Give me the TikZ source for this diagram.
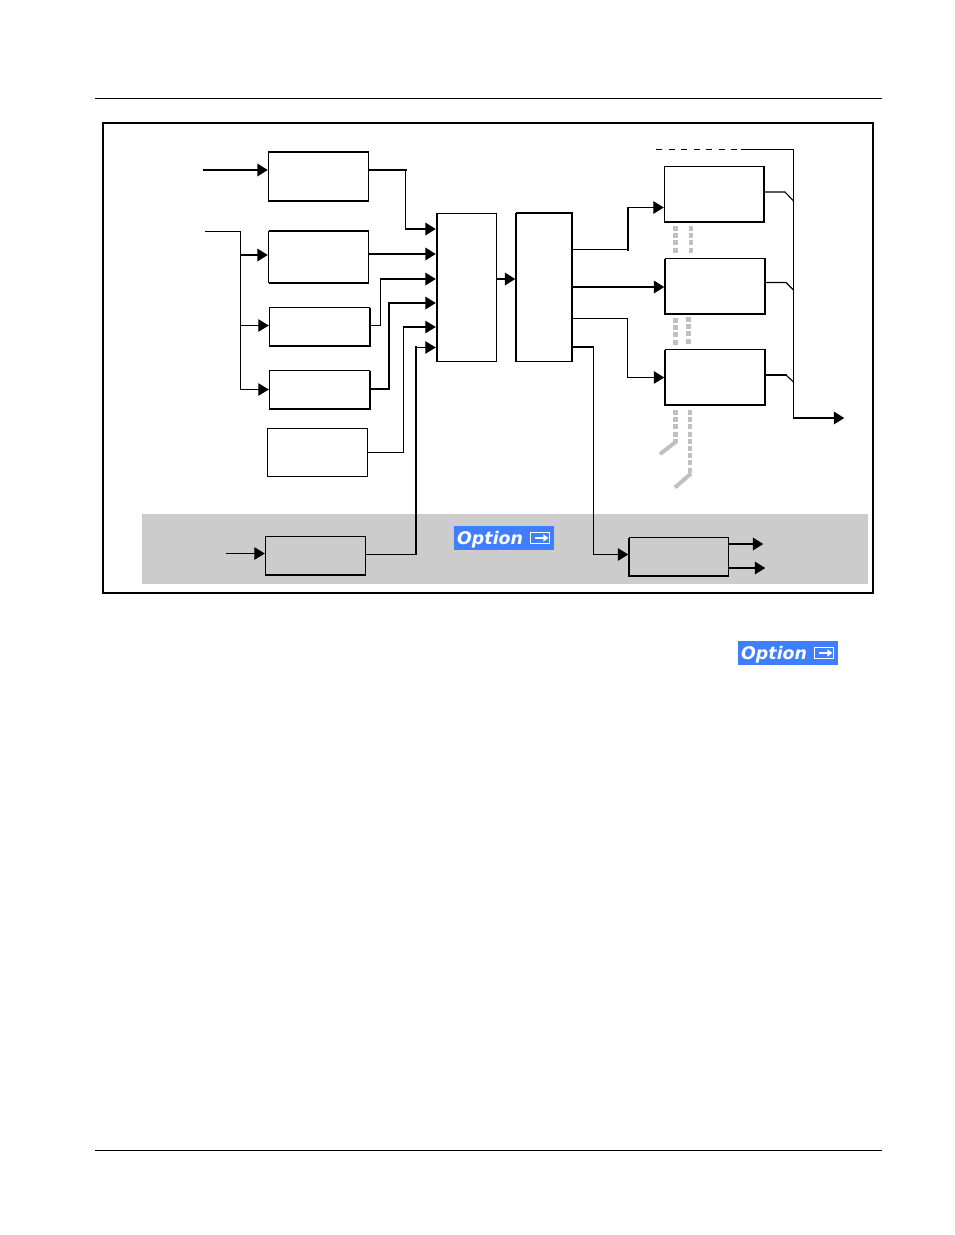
\documentclass[tikz,border=0pt]{standalone}
\usepackage{fontspec}
\newfontfamily\optfont{DejaVu Sans}
\usetikzlibrary{arrows.meta}
\definecolor{band}{HTML}{CCCCCC}
\definecolor{ghost}{HTML}{C0C0C0}
\definecolor{optblue}{HTML}{3F7FFF}
\tikzset{
  px/.style={x=1pt,y=-1pt},
  boxb/.style={draw=black,line width=1pt,inner sep=0pt,outer sep=0pt,anchor=north west},
  thinl/.style={line width=1.1pt,line cap=rect},
  thickl/.style={line width=2pt,line cap=rect},
  edgel/.style={line width=2pt,line cap=butt},
  tipped/.style={-{Triangle[length=10.5pt,width=12.5pt]},shorten >=0.7pt},
  ghostl/.style={draw=ghost,line width=5pt,dash pattern=on 5pt off 2.2pt},
  ghostk/.style={draw=ghost,line width=4pt,line cap=butt},
  optbadge/.style={fill=optblue,draw=none,inner sep=0pt,minimum width=100.5pt,minimum height=23.5pt},
  opttext/.style={text=white,font=\optfont\fontsize{17.4}{17.4}\selectfont\bfseries\itshape,inner sep=0pt,anchor=base west},
  iconbox/.style={draw=white,line width=1.6pt},
  iconarrow/.style={draw=white,line width=2pt,-{Triangle[length=5pt,width=7pt]}},
}
\begin{document}
\begin{tikzpicture}[px]
\useasboundingbox (0,0) rectangle (954,1235);
\fill[white] (0,0) rectangle (954,1235);
% page rules
\coordinate (r1a) at (95,98.5); \coordinate (r1b) at (882,98.5);
\coordinate (r2a) at (95,1150.5); \coordinate (r2b) at (882,1150.5);
\draw[line width=1pt] (r1a) -- (r1b);
\draw[line width=1pt] (r2a) -- (r2b);
% frame and option band
\fill[band] (142,514) rectangle (868,584);
\draw[line width=2pt] (103,123) rectangle (873,593);

% boxes
\node[boxb,minimum width=100pt,minimum height=49.5pt] (b1) at (268.5,151.5) {};
\node[boxb,minimum width=100pt,minimum height=51.5pt] (b2) at (268.5,231) {};
\node[boxb,minimum width=100pt,minimum height=38.5pt] (b3) at (269.5,307.5) {};
\node[boxb,minimum width=100pt,minimum height=38.5pt] (b4) at (269.5,370.5) {};
\node[boxb,minimum width=100pt,minimum height=48pt] (b5) at (267.5,428.5) {};
\node[boxb,minimum width=60pt,minimum height=148pt] (mux) at (436.5,213.5) {};
\node[boxb,minimum width=56pt,minimum height=148.5pt] (fs) at (516,213) {};
\node[boxb,minimum width=99.5pt,minimum height=55.5pt] (r1) at (664.5,166.5) {};
\node[boxb,minimum width=100pt,minimum height=55.5pt] (r2) at (665,258.5) {};
\node[boxb,minimum width=100pt,minimum height=55.5pt] (r3) at (665,349.5) {};
\node[boxb,minimum width=100pt,minimum height=38.5pt] (opi) at (265.5,536.5) {};
\node[boxb,minimum width=99.5pt,minimum height=38.5pt] (opo) at (629,537.5) {};

% heavier box edges
\draw[edgel] (b1.north west) -- (b1.north east);
\draw[edgel] (b1.south west) -- (b1.south east);
\draw[edgel] (b2.north west) -- (b2.north east);
\draw[edgel] (b2.south west) -- (b2.south east);
\draw[edgel,line join=miter] (b3.south west) -- (b3.south east) -- (b3.north east);
\draw[edgel,line join=miter] (b4.south west) -- (b4.south east) -- (b4.north east);
\draw[edgel] (mux.north west) -- (mux.south west);
\draw[edgel,line join=miter] (fs.north west) -- (fs.north east) -- (fs.south east);
\draw[edgel] (fs.north west) -- (fs.south west);
\draw[edgel,line join=miter] (r1.north east) -- (r1.south east) -- (r1.south west);
\draw[edgel,line join=miter] (r2.north west) -- (r2.south west) -- (r2.south east) -- (r2.north east);
\draw[edgel,line join=miter] (r3.north west) -- (r3.south west) -- (r3.south east) -- (r3.north east);
\draw[edgel] (opi.south west) -- (opi.south east);
\draw[edgel,line join=miter] (opo.north west) -- (opo.south west) -- (opo.south east);

% free ends
\coordinate (in1) at (204,170);
\coordinate (in2) at (206,231.5);
\coordinate (in3) at (227,553.5);
\coordinate (busT) at (793.5,149.5);
\coordinate (busB) at (793.5,418);
\coordinate (out) at (845,418);
\coordinate (dashS) at (656,149.5);
\coordinate (dashE) at (742,149.5);
\coordinate (o1) at (764,544);
\coordinate (o2) at (766,568);

% inputs
\draw[thickl,tipped] (in1) -- (b1.west |- in1);
\draw[thinl] (in2) -- (240.5,231.5) -- (240.5,389.5);
\draw[thickl,tipped] (240.5,255) -- (b2.west |- 0,255);
\draw[thinl,tipped] (240.5,325.5) -- (b3.west |- 0,325.5);
\draw[thinl,tipped] (240.5,389.5) -- (b4.west |- 0,389.5);
\draw[thinl,tipped] (in3) -- (opi.west |- in3);

% into mux
\draw[thickl] (b1.east |- 0,170) -- (406,170);
\draw[thinl] (405.5,170) -- (405.5,229);
\draw[thickl,tipped] (405.5,229) -- (mux.west |- 0,229);
\draw[thickl,tipped] (b2.east |- 0,254) -- (mux.west |- 0,254);
\draw[thinl] (b3.east |- 0,325.5) -- (380.5,325.5) -- (380.5,279);
\draw[thickl,tipped] (380.5,279) -- (mux.west |- 0,279);
\draw[thickl] (b4.east |- 0,389) -- (389,389) -- (389,303);
\draw[thickl,tipped] (389,303) -- (mux.west |- 0,303);
\draw[thinl] (b5.east |- 0,452.5) -- (403.5,452.5) -- (403.5,327);
\draw[thinl,tipped] (403.5,327) -- (mux.west |- 0,327);
\draw[thinl] (opi.east |- 0,554.5) -- (415.5,554.5);
\draw[thickl] (416,554) -- (416,347);
\draw[thinl,tipped] (416,347.5) -- (mux.west |- 0,347.5);
\draw[thickl,tipped] (mux.east |- 0,279) -- (fs.west |- 0,279);

% out of second block
\draw[thinl] (fs.east |- 0,249.5) -- (628,249.5);
\draw[thickl] (628,249.5) -- (628,207.5);
\draw[thinl,tipped] (628,207.5) -- (r1.west |- 0,207.5);
\draw[thickl,tipped] (fs.east |- 0,287) -- (r2.west |- 0,287);
\draw[thinl] (fs.east |- 0,318.5) -- (627.5,318.5) -- (627.5,377.5);
\draw[thinl,tipped] (627.5,377.5) -- (r3.west |- 0,377.5);
\draw[thickl] (fs.east |- 0,347) -- (593,347);
\draw[thinl] (593.5,347) -- (593.5,554.5);
\draw[thinl,tipped] (593.5,554.5) -- (opo.west |- 0,554.5);
\draw[thickl,tipped] (opo.east |- o1) -- (o1);
\draw[thickl,tipped] (opo.east |- o2) -- (o2);

% output bus
\draw[line width=1pt,dash pattern=on 6pt off 6.5pt] (dashS) -- (dashE);
\draw[thinl] (dashE) -- (busT) -- (busB);
\draw[thickl,tipped] (busB) -- (out);
\draw[thinl] (r1.east |- 0,192) -- (785,192) -- (793.5,201);
\draw[thinl] (r2.east |- 0,282.5) -- (786,282.5) -- (793.5,290);
\draw[thickl] (r3.east |- 0,375) -- (786,375);
\draw[thinl] (786,375) -- (793.5,382);

% grey dashed stubs
\draw[ghostl] (675.5,226) -- (675.5,253.5);
\draw[ghostl,line width=4pt] (691,226) -- (691,253.5);
\draw[ghostl] (675.5,318) -- (675.5,345.5);
\draw[ghostl] (688.5,317) -- (688.5,344.5);
\draw[ghostl] (675.5,410) -- (675.5,442);
\draw[ghostk] (677,441) -- (660,454);
\draw[ghostl,line width=4pt] (690,410) -- (690,475);
\draw[ghostk] (691,473.5) -- (675,487.5);

% option badges
\node[optbadge,anchor=north west] (bd1) at (453.5,526) {};
\node[opttext] (bd1t) at ([xshift=3.5pt,yshift=-6.5pt]bd1.west) {Option};
\draw[iconbox] ([xshift=-24pt,yshift=-5.5pt]bd1.east) rectangle ([xshift=-5pt,yshift=5.5pt]bd1.east);
\draw[iconarrow] ([xshift=-19pt]bd1.east) -- ([xshift=-6pt]bd1.east);

\node[optbadge,anchor=north west] (bd2) at (737.5,641) {};
\node[opttext] (bd2t) at ([xshift=3.5pt,yshift=-6.5pt]bd2.west) {Option};
\draw[iconbox] ([xshift=-24pt,yshift=-5.5pt]bd2.east) rectangle ([xshift=-5pt,yshift=5.5pt]bd2.east);
\draw[iconarrow] ([xshift=-19pt]bd2.east) -- ([xshift=-6pt]bd2.east);
\end{tikzpicture}
\end{document}
